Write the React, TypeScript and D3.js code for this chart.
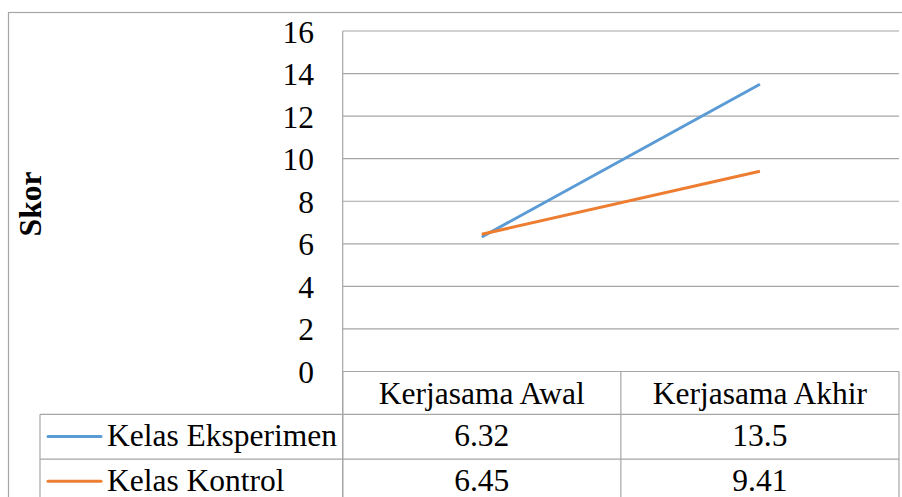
import React from "react";
import * as d3 from "d3";

const categories = ["Kerjasama Awal", "Kerjasama Akhir"];
const seriesNames = ["Kelas Eksperimen", "Kelas Kontrol"];
const eksperimen = [6.32, 13.5];
const kontrol = [6.45, 9.41];
const seriesColors = ["#5B9BD5", "#ED7D31"];
const yTicks = [0, 2, 4, 6, 8, 10, 12, 14, 16];
const yLabel = "Skor";

const W = 902;
const H = 497;
const plotLeft = 342.7;
const plotRight = 899;
const plotTop = 31;
const plotBottom = 371.5;
const tableLeft = 40;
const rowH = 44.8;
const catRowBottom = 414.3;
const font = "Liberation Serif";
const fontSize = 31.5;
const grid = "#a6a6a6";

export default function App() {
  const x = d3.scaleBand<string>().domain(categories).range([plotLeft, plotRight]);
  const y = d3.scaleLinear().domain([0, 16]).range([plotBottom, plotTop]);
  const line = d3
    .line<number>()
    .x((_, i) => (x(categories[i]) as number) + x.bandwidth() / 2)
    .y((v) => y(v));
  const allSeries = [eksperimen, kontrol];

  const rowTops = [catRowBottom, catRowBottom + rowH];
  const colEdges = [plotLeft, ...categories.map((c) => (x(c) as number) + x.bandwidth())];
  const textStyle: React.CSSProperties = { fontFamily: font, fontSize };

  return (
    <svg
      width={W}
      height={H}
      style={{ position: "absolute", left: 0, top: 0, background: "#fff" }}
    >
      {/* outer chart frame */}
      <rect x={8.5} y={12.5} width={W + 20} height={H + 20} fill="none" stroke={grid} strokeWidth={1.2} />

      {/* horizontal gridlines */}
      {yTicks.map((t) => (
        <line key={t} x1={plotLeft} x2={plotRight} y1={y(t)} y2={y(t)} stroke={grid} strokeWidth={1.2} />
      ))}
      {/* value axis line */}
      <line x1={plotLeft} x2={plotLeft} y1={plotTop} y2={H} stroke={grid} strokeWidth={1.2} />

      {/* tick labels */}
      {yTicks.map((t) => (
        <text key={t} x={314} y={y(t) + 11.5} textAnchor="end" style={textStyle} fill="#000">
          {t}
        </text>
      ))}

      {/* axis title */}
      <text
        transform={`translate(41,204) rotate(-90)`}
        textAnchor="middle"
        style={{ ...textStyle, fontWeight: "bold" }}
        fill="#000"
      >
        {yLabel}
      </text>

      {/* data table: category header */}
      {colEdges.map((cx, i) => (
        <line key={i} x1={cx} x2={cx} y1={plotBottom} y2={H} stroke={grid} strokeWidth={1.2} />
      ))}
      {categories.map((c) => (
        <text
          key={c}
          x={(x(c) as number) + x.bandwidth() / 2}
          y={404.3}
          textAnchor="middle"
          style={textStyle}
          fill="#000"
        >
          {c}
        </text>
      ))}

      {/* data table: series rows */}
      <line x1={tableLeft} x2={tableLeft} y1={catRowBottom} y2={H} stroke={grid} strokeWidth={1.2} />
      {rowTops.map((ry, i) => (
        <line key={i} x1={tableLeft} x2={plotRight} y1={ry} y2={ry} stroke={grid} strokeWidth={1.2} />
      ))}
      {allSeries.map((vals, si) => {
        const base = rowTops[si] + 31.7;
        const ly = rowTops[si] + 22.2;
        return (
          <g key={si}>
            <line x1={48} x2={101} y1={ly} y2={ly} stroke={seriesColors[si]} strokeWidth={3} strokeLinecap="round" />
            <text x={107} y={base} style={textStyle} fill="#000">
              {seriesNames[si]}
            </text>
            {vals.map((v, ci) => (
              <text
                key={ci}
                x={(x(categories[ci]) as number) + x.bandwidth() / 2}
                y={base}
                textAnchor="middle"
                style={textStyle}
                fill="#000"
              >
                {v}
              </text>
            ))}
          </g>
        );
      })}

      {/* series lines */}
      {allSeries.map((vals, si) => (
        <path key={si} d={line(vals) as string} fill="none" stroke={seriesColors[si]} strokeWidth={3} />
      ))}
    </svg>
  );
}
